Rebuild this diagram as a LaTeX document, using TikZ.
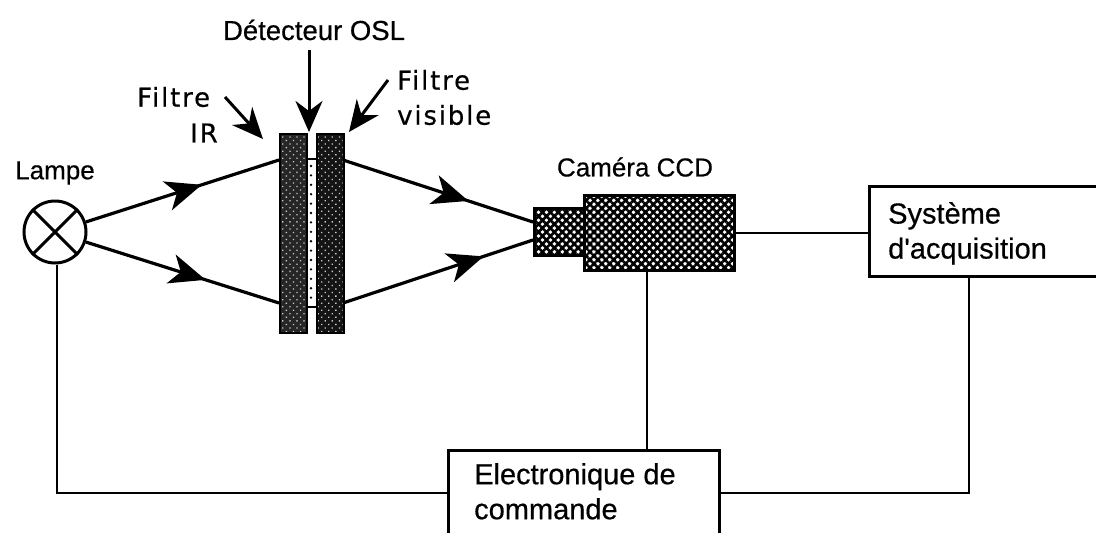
\documentclass[tikz,border=0pt]{standalone}
\usepackage{fontspec}
\setmainfont[FakeBold=0.5]{Liberation Sans}
\newfontfamily\spaced[LetterSpace=7,FakeBold=0.5]{DejaVu Sans}
\newfontfamily\boitefont[FakeBold=0.5]{Liberation Sans}
\usetikzlibrary{positioning,arrows.meta,decorations.markings,patterns.meta}

\begin{document}
\begin{tikzpicture}[
	x=1pt,y=-1pt,
	every node/.style={font=\fontsize{26}{37}\selectfont\rmfamily,inner sep=0pt},
	legende/.style={font=\fontsize{26}{35}\selectfont\spaced},
	texte/.style={font=\fontsize{29}{35}\selectfont\boitefont,anchor=north west,align=left},
	wire/.style={line width=2.8pt},
	beam/.style={
		line width=3.2pt,
			postaction={decorate}, decoration={
					markings, mark=at position #1 with {
							\arrow{Stealth[length=36pt,width=30pt,inset=10pt]}
						},
				}
	},
	pointer/.style={line width=3pt,-{Stealth[length=31pt,width=27pt,inset=10pt]}},
	boite/.style={draw,line width=2.8pt,fill=white,anchor=north west},
	filtre/.style={draw,line width=2pt,anchor=north west,minimum width=27pt,minimum height=199pt,
			pattern={Dots[radius=0.9pt,distance=5pt,angle=45]},pattern color=white!80!black},
	mesh/.style={draw,line width=2.8pt,anchor=north west,
			pattern={Hatch[angle=45,distance=5.6pt,line width=2.6pt]},pattern color=black}
]
	\clip (0,0) rectangle (1096,533);
	%% lampe
	\node[circle,draw,line width=3pt,minimum size=62pt] (lamp) at (55,232) {};
	\draw[line width=3pt] (lamp.45) -- (lamp.225);
	\draw[line width=3pt] (lamp.135) -- (lamp.315);
	\node (lamplabel) at (55,173) {Lampe};
	%% filtres et detecteur
	\node[draw,line width=2pt,fill=white,anchor=north west,minimum width=12pt,minimum height=148pt] (osl) at (305,158) {};
	\foreach \i in {0,...,14}
		\fill (311,{166+\i*9.4}) circle (1.3pt);
	\fill[black!85] (279,133) rectangle (306,332);
	\fill[black!92] (316,133) rectangle (343,332);
	\node[filtre] (ir) at (279,133) {};
	\node[filtre] (vis) at (316,133) {};
	\node[font=\fontsize{27.5}{35}\selectfont\rmfamily] (osllabel) at (314,30) {Détecteur OSL};
	\node[legende,anchor=west] (irlabel) at (137,97) {Filtre};
	\node[legende,anchor=east] (irlabelb) at (218,133) {IR};
	\node[legende,anchor=west] (vislabel) at (397,80) {Filtre};
	\node[legende,anchor=west] (vislabelb) at (397,115) {visible};
	% fleches des legendes
	\coordinate (ira) at (225,97);
	\coordinate (irb) at (263,139);
	\coordinate (visa) at (388,80);
	\coordinate (visb) at (349,132);
	\coordinate (osla) at (309,50);
	\coordinate (oslb) at (309,132);
	\draw[pointer] (ira) -- (irb);
	\draw[pointer] (visa) -- (visb);
	\draw[pointer] (osla) -- (oslb);
	%% camera
	\node[mesh,minimum width=50pt,minimum height=47pt] (lens) at (533,207) {};
	\node[mesh,minimum width=150pt,minimum height=75pt] (body) at (583,194) {};
	\node (camlabel) at (635,167) {Caméra CCD};
	%% boites
	\node[boite,minimum width=240pt,minimum height=90pt] (sys) at (868,185) {};
	\node[texte] (systext) at (888,202) {Système\\d'acquisition};
	\node[boite,minimum width=271pt,minimum height=110pt] (elec) at (447,449) {};
	\node[texte] (electext) at (474,463) {Electronique de\\commande};
	%% faisceaux
	\coordinate (ih) at (279,160);
	\coordinate (ib) at (279,303);
	\coordinate (vh) at (343,160);
	\coordinate (vb) at (343,303);
	\coordinate (lh) at (533,222);
	\coordinate (lb) at (533,240);
	\draw[beam=.60] (lamp.18) -- (ih);
	\draw[beam=.62] (lamp.-18) -- (ib);
	\draw[beam=.66] (vh) -- (lh);
	\draw[beam=.74] (vb) -- (lb);
	%% liaisons
	\coordinate (bas) at (57,493);
	\coordinate (droite) at (969,493);
	\draw[wire] (body.east) -- (sys.west |- body.east);
	\draw[wire] (body.south -| 647,0) -- (elec.north -| 647,0);
	\draw[wire] (lamp.south -| bas) -- (bas) -- (elec.west |- bas);
	\draw[wire] (elec.east |- droite) -- (droite) -- (droite |- sys.south);
\end{tikzpicture}
\end{document}
